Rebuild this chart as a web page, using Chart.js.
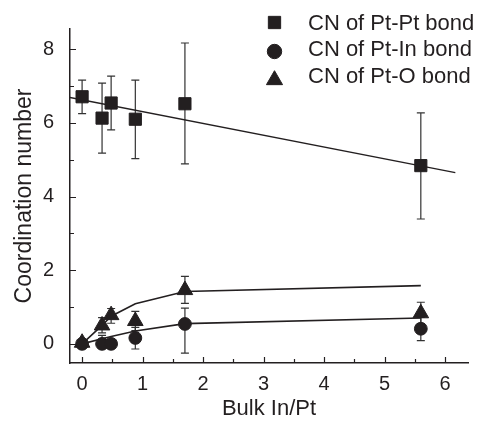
<!DOCTYPE html>
<html>
<head>
<meta charset="utf-8">
<script src="https://cdn.jsdelivr.net/npm/chart.js@4.4.1/dist/chart.umd.min.js"></script>
<style>
  html, body { margin: 0; padding: 0; background: #ffffff; }
  #wrap { width: 478px; height: 421px; }
</style>
</head>
<body>
<div id="wrap"><canvas id="c" width="478" height="421"></canvas></div>
<script>
// ---- data ----
const bulkInPt = [0, 0.33, 0.48, 0.88, 1.7, 5.6];

const cnPtPt     = [6.71, 6.13, 6.54, 6.10, 6.52, 4.84];
const cnPtPtLow  = [6.25, 5.18, 5.81, 5.03, 4.89, 3.39];
const cnPtPtHigh = [7.16, 7.08, 7.27, 7.16, 8.17, 6.27];

const cnPtIn     = [0, 0, 0, 0.16, 0.54, 0.41];
const cnPtInLow  = [-0.05, -0.10, -0.10, -0.14, -0.25, 0.09];
const cnPtInHigh = [0.05, 0.23, 0.10, 0.45, 0.97, 0.72];

const cnPtO     = [0.03, 0.50, 0.78, 0.62, 1.46, 0.83];
const cnPtOLow  = [-0.03, 0.30, 0.56, 0.36, 1.10, 0.55];
const cnPtOHigh = [0.08, 0.71, 0.96, 0.88, 1.83, 1.13];

const fitPtPtX = [-0.2, 6.17];
const fitPtPtY = [6.69, 4.65];
const fitX     = [0, 0.33, 0.48, 0.88, 1.7, 5.6];
const fitPtIn  = [0, 0.14, 0.20, 0.35, 0.55, 0.70];
const fitPtO   = [0, 0.50, 0.75, 1.09, 1.42, 1.58];

const seriesNames = ['CN of Pt-Pt bond', 'CN of Pt-In bond', 'CN of Pt-O bond'];
const xTitle = 'Bulk In/Pt';
const yTitle = 'Coordination number';

const INK = '#231f20';
const FONT = '"Liberation Sans", Arial, sans-serif';

const pts = (xs, ys) => xs.map((x, i) => ({x: x, y: ys[i]}));

const errorSets = [
  {low: cnPtPtLow, high: cnPtPtHigh},
  {low: cnPtInLow, high: cnPtInHigh},
  {low: cnPtOLow, high: cnPtOHigh}
];

const errorBars = {
  id: 'errorBars',
  beforeDatasetsDraw(chart) {
    const {ctx, scales: {x, y}} = chart;
    ctx.save();
    ctx.strokeStyle = '#333';
    ctx.lineWidth = 1.2;
    errorSets.forEach(es => {
      bulkInPt.forEach((xv, i) => {
        const px = x.getPixelForValue(xv);
        const y1 = y.getPixelForValue(es.low[i]);
        const y2 = y.getPixelForValue(es.high[i]);
        ctx.beginPath();
        ctx.moveTo(px, y1); ctx.lineTo(px, y2);
        ctx.moveTo(px - 4, y1); ctx.lineTo(px + 4, y1);
        ctx.moveTo(px - 4, y2); ctx.lineTo(px + 4, y2);
        ctx.stroke();
      });
    });
    ctx.restore();
  }
};

const inwardTicks = {
  id: 'inwardTicks',
  afterDraw(chart) {
    const {ctx, chartArea: a, scales: {x, y}} = chart;
    ctx.save();
    ctx.strokeStyle = INK;
    ctx.lineWidth = 1.2;
    ctx.beginPath();
    for (let v = 0; v <= 6.001; v += 0.5) {
      const px = Math.round(x.getPixelForValue(v)) + 0.5;
      const len = (Math.abs(v - Math.round(v)) < 1e-6) ? 6 : 4;
      ctx.moveTo(px, a.bottom); ctx.lineTo(px, a.bottom - len);
    }
    for (let v = 0; v <= 8.001; v += 1) {
      const py = Math.round(y.getPixelForValue(v)) + 0.5;
      const len = (v % 2 === 0) ? 6 : 4;
      ctx.moveTo(a.left, py); ctx.lineTo(a.left + len, py);
    }
    ctx.stroke();
    ctx.restore();
  }
};

const legendRows = [
  {style: 'rect', r: 8.7, y: 22.5},
  {style: 'circle', r: 7.2, y: 51.5},
  {style: 'triangle', r: 9.3, y: 80}
];
const legendTextY = [23.5, 50, 76.5];

const customLegend = {
  id: 'customLegend',
  afterDraw(chart) {
    const ctx = chart.ctx;
    ctx.save();
    legendRows.forEach((row, i) => {
      ctx.fillStyle = INK;
      ctx.strokeStyle = INK;
      ctx.lineWidth = 1;
      Chart.helpers.drawPoint(ctx, {pointStyle: row.style, radius: row.r, borderWidth: 1, rotation: 0}, 274.5, row.y);
      ctx.fillStyle = INK;
      ctx.font = '22px ' + FONT;
      ctx.textAlign = 'left';
      ctx.textBaseline = 'middle';
      ctx.fillText(seriesNames[i], 308, legendTextY[i]);
    });
    ctx.restore();
  }
};

new Chart(document.getElementById('c'), {
  type: 'scatter',
  data: {
    datasets: [
      {label: 'fit Pt-Pt', data: pts(fitPtPtX, fitPtPtY), showLine: true, pointRadius: 0, borderColor: INK, borderWidth: 1.3, order: 5},
      {label: 'fit Pt-In', data: pts(fitX, fitPtIn), showLine: true, pointRadius: 0, borderColor: INK, borderWidth: 1.6, order: 5},
      {label: 'fit Pt-O', data: pts(fitX, fitPtO), showLine: true, pointRadius: 0, borderColor: INK, borderWidth: 1.6, order: 5},
      {label: seriesNames[0], data: pts(bulkInPt, cnPtPt), pointStyle: 'rect', pointRadius: 8.6, backgroundColor: INK, borderColor: INK, borderWidth: 1, order: 1},
      {label: seriesNames[1], data: pts(bulkInPt, cnPtIn), pointStyle: 'circle', pointRadius: 6.4, backgroundColor: INK, borderColor: INK, borderWidth: 1, order: 1},
      {label: seriesNames[2], data: pts(bulkInPt, cnPtO), pointStyle: 'triangle', pointRadius: 9, backgroundColor: INK, borderColor: INK, borderWidth: 1, order: 1}
    ]
  },
  options: {
    responsive: false,
    animation: false,
    devicePixelRatio: 1,
    layout: {padding: {top: 29, right: 1, left: 0, bottom: 0}},
    plugins: {legend: {display: false}, tooltip: {enabled: false}},
    scales: {
      x: {
        type: 'linear', min: -0.2, max: 6.38,
        afterFit(s) { s.height = 58; },
        grid: {display: false},
        border: {display: true, color: INK, width: 1.5},
        ticks: {stepSize: 1, includeBounds: false, padding: 1, color: INK, font: {family: FONT, size: 20}},
        title: {display: true, text: xTitle, color: INK, font: {family: FONT, size: 22}, padding: {top: 0, bottom: -1}}
      },
      y: {
        type: 'linear', min: -0.52, max: 8.55,
        afterFit(s) { s.width = 70; },
        grid: {display: false},
        border: {display: true, color: INK, width: 1.5},
        ticks: {stepSize: 2, includeBounds: false, padding: 8, color: INK, font: {family: FONT, size: 20}},
        title: {display: true, text: yTitle, color: INK, font: {family: FONT, size: 23}, padding: {top: 11, bottom: 0}}
      }
    }
  },
  plugins: [errorBars, inwardTicks, customLegend]
});
</script>
</body>
</html>
